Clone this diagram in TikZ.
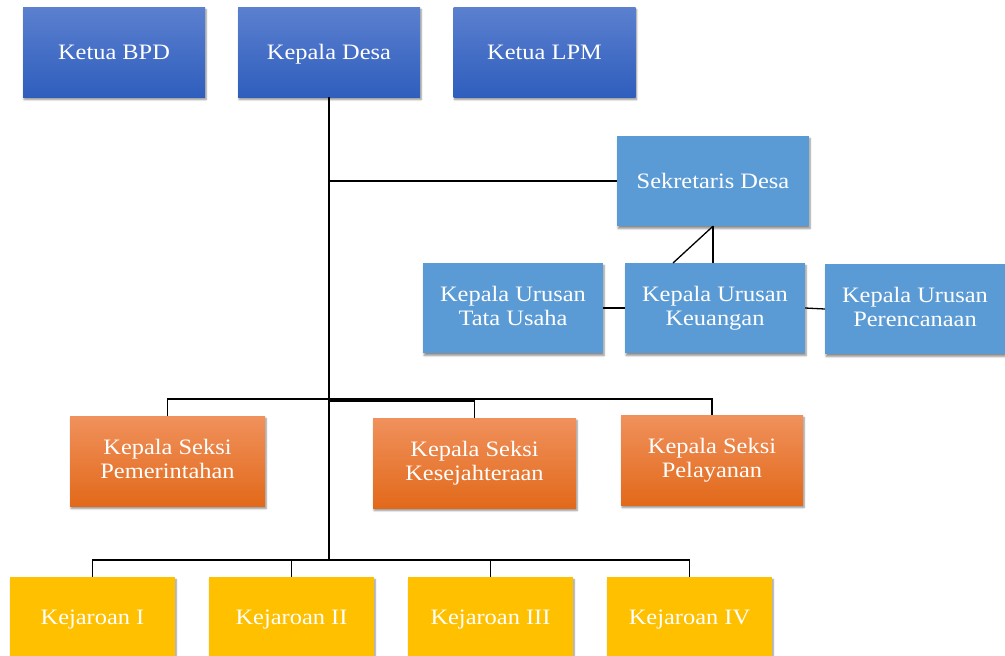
\documentclass[tikz,border=0pt]{standalone}
\usepackage{fontspec}
\setmainfont{Liberation Serif}[FakeStretch=1.11]
\usetikzlibrary{shadows.blur}
\definecolor{bluetop}{HTML}{5B80CF}
\definecolor{bluebot}{HTML}{2F5EBD}
\definecolor{secblue}{HTML}{5B9BD5}
\definecolor{ortop}{HTML}{F0915C}
\definecolor{orbot}{HTML}{E2691A}
\definecolor{gold}{HTML}{FFC000}
\newcommand{\boxstrut}{\rule[-4.4pt]{0pt}{24pt}}
\tikzset{
  x=1pt, y=-1pt,
  box/.style={rectangle, inner sep=0pt, align=center, text=white,
    font=\fontsize{22}{24}\selectfont,
    execute at begin node=\boxstrut, execute at end node=\boxstrut,
    blur shadow={shadow xshift=1pt, shadow yshift=-2.5pt, shadow blur steps=6, shadow opacity=45}},
  topbox/.style={box, top color=bluetop, bottom color=bluebot, minimum width=182pt, minimum height=90pt},
  secbox/.style={box, fill=secblue, minimum height=90pt},
  orbox/.style={box, top color=ortop, bottom color=orbot, minimum height=90pt},
  kbox/.style={box, fill=gold, minimum width=165pt, minimum height=80pt},
  conn/.style={draw=black, line width=1.3pt},
}
\begin{document}
\begin{tikzpicture}
\useasboundingbox (0,0) rectangle (1005,656);
% top row
\node[topbox] (bpd) at (114,52) {Ketua BPD};
\node[topbox] (desa) at (329,52) {Kepala Desa};
\node[topbox] (lpm) at (544.5,52) {Ketua LPM};
% sekretaris
\node[secbox, minimum width=192pt] (sek) at (713,181) {Sekretaris Desa};
\node[secbox, minimum width=180pt] (tu) at (513,308) {Kepala Urusan\\Tata Usaha};
\node[secbox, minimum width=180pt] (keu) at (715,308) {Kepala Urusan\\Keuangan};
\node[secbox, minimum width=180pt] (per) at (915,309) {Kepala Urusan\\Perencanaan};
% seksi
\node[orbox, minimum width=195pt] (pem) at (167.5,461) {Kepala Seksi\\Pemerintahan};
\node[orbox, minimum width=203pt] (kes) at (474.5,463) {Kepala Seksi\\Kesejahteraan};
\node[orbox, minimum width=182pt] (pel) at (712,460) {Kepala Seksi\\Pelayanan};
% kejaroan
\node[kbox] (k1) at (92.5,617) {Kejaroan I};
\node[kbox] (k2) at (291.5,617) {Kejaroan II};
\node[kbox] (k3) at (490.5,617) {Kejaroan III};
\node[kbox] (k4) at (689.5,617) {Kejaroan IV};
% coordinates
\coordinate (trunkbot) at (329,560);
\coordinate (jsek) at (329,181);
\coordinate (diag) at (673,263);
% connectors
\draw[conn] (desa.south) -- (trunkbot);
\draw[conn] (jsek) -- (sek.west);
\draw[conn] (sek.south) -- (sek.south |- keu.north);
\draw[conn] (sek.south) -- (diag);
\draw[conn] (tu.east) -- (keu.west);
\draw[conn] (keu.east) -- (per.west);
\draw[conn] (pem.north) -- (pem.north |- 0,399) -- (pel.north |- 0,399) -- (pel.north);
\draw[conn] (kes.north) -- (kes.north |- 0,401) -- (329,401);
\draw[conn] (k1.north) -- (k1.north |- trunkbot) -- (k4.north |- trunkbot) -- (k4.north);
\draw[conn] (k2.north) -- (k2.north |- trunkbot);
\draw[conn] (k3.north) -- (k3.north |- trunkbot);
\end{tikzpicture}
\end{document}
